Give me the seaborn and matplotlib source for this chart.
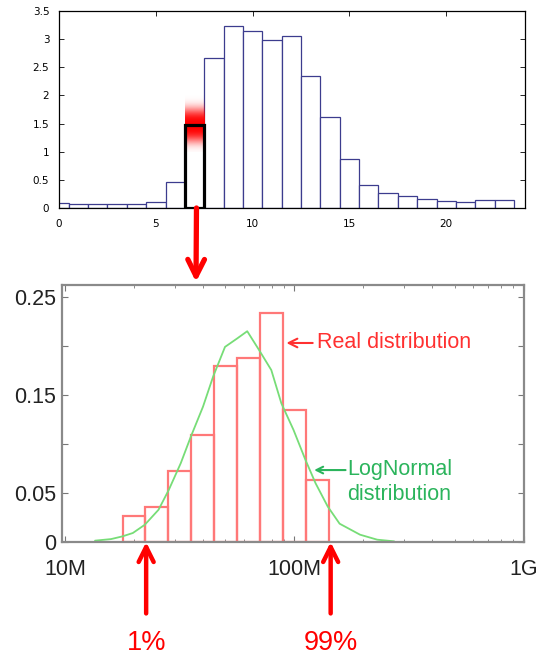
import matplotlib
matplotlib.use("Agg")

import matplotlib.pyplot as plt
import numpy as np
import pandas as pd
import seaborn as sns

# ── Data ──
# top histogram: bins centred on integers 0..23, width 1
top_centers = list(range(24))
top_heights = [0.09, 0.07, 0.07, 0.07, 0.075, 0.10, 0.455, 1.47, 2.66, 3.23, 3.14, 2.98,
               3.05, 2.34, 1.62, 0.865, 0.41, 0.26, 0.21, 0.165, 0.13, 0.11, 0.15, 0.15]
highlight_bin = 7

# bottom histogram: log10 of bin edges (bytes) and heights
real_log_edges = [7.25, 7.35, 7.45, 7.55, 7.65, 7.75, 7.85, 7.95, 8.05, 8.15]
real_heights = [0.027, 0.036, 0.0726, 0.109, 0.180, 0.188, 0.234, 0.135, 0.0628]

# lognormal fit curve: log10(x), density
fit_log_x = [7.13, 7.20, 7.25, 7.295, 7.347, 7.407, 7.452, 7.504, 7.548, 7.601, 7.645, 7.697,
             7.75, 7.794, 7.846, 7.899, 7.943, 7.996, 8.048, 8.092, 8.145, 8.197, 8.286, 8.361, 8.435]
fit_y = [0.0014, 0.003, 0.0058, 0.0092, 0.0176, 0.0329, 0.0533, 0.0804, 0.1075, 0.138, 0.1686, 0.199,
         0.2076, 0.215, 0.1957, 0.1754, 0.1414, 0.1143, 0.0838, 0.060, 0.0363, 0.0187, 0.0075, 0.0024, 0.0007]

pct_log_x = [7.353, 8.158]
pct_labels = ["1%", "99%"]

# ── Setup ──
sns.set_theme(style="ticks")
plt.rcParams["font.family"] = ["Liberation Sans", "DejaVu Sans"]

RED = "#ff0000"
NAVY = "#3c3c8e"

fig = plt.figure(figsize=(5.44, 6.57), dpi=100)
fig.patch.set_facecolor("white")

# ── 1. Top histogram ──
ax1 = fig.add_axes([0.1085, 0.6834, 0.8566, 0.2998])
top_df = pd.DataFrame({"x": top_centers, "w": top_heights})
top_edges = [c - 0.5 for c in top_centers] + [top_centers[-1] + 0.5]
sns.histplot(data=top_df, x="x", weights="w", bins=top_edges, ax=ax1,
             facecolor="white", edgecolor=NAVY, linewidth=0.9)

# red glow around the highlighted bin top
yy = np.linspace(1.0, 2.0, 200)
alpha = np.exp(-(np.abs(yy - 1.47) / 0.3) ** 3)
glow = np.zeros((len(yy), 1, 4))
glow[:, 0, 0] = 1.0
glow[:, 0, 3] = alpha
ax1.imshow(glow[::-1], extent=[highlight_bin - 0.5, highlight_bin + 0.5, 1.0, 2.0],
           aspect="auto", zorder=1.5, interpolation="bilinear")
ax1.bar(highlight_bin, top_heights[highlight_bin], width=1.0, facecolor="none",
        edgecolor="black", linewidth=2.3, zorder=2)

ax1.set_xlim(0, 24.07)
ax1.set_ylim(0, 3.5)
ax1.set_xticks([0, 5, 10, 15, 20])
ax1.set_yticks(np.arange(0, 3.51, 0.5))
ax1.set_yticklabels(["0", "0.5", "1", "1.5", "2", "2.5", "3", "3.5"])
ax1.set_xlabel("")
ax1.set_ylabel("")
ax1.tick_params(direction="in", top=True, right=True, length=3.5, width=0.6,
                labelsize=7.5, colors="black", labelfontfamily="DejaVu Sans")
ax1.tick_params(axis="x", pad=8)
ax1.tick_params(axis="y", pad=7)
for s in ax1.spines.values():
    s.set_color("black")
    s.set_linewidth(0.9)

# ── 2. Bottom histogram (log x) ──
ax2 = fig.add_axes([0.1136, 0.175, 0.849, 0.391])
edges_lin = [10 ** e for e in real_log_edges]
real_df = pd.DataFrame({
    "x": [10 ** ((a + b) / 2) for a, b in zip(real_log_edges[:-1], real_log_edges[1:])],
    "w": real_heights,
})
sns.histplot(data=real_df, x="x", weights="w", bins=edges_lin, ax=ax2,
             facecolor="none", edgecolor="#ff7878", linewidth=1.6)
fit_df = pd.DataFrame({"x": [10 ** v for v in fit_log_x], "y": fit_y})
sns.lineplot(data=fit_df, x="x", y="y", ax=ax2, color="#77dd77",
             linewidth=1.3, estimator=None, sort=False)

ax2.set_xscale("log")
ax2.set_xlim(10 ** 6.985, 10 ** 8.985)
ax2.set_ylim(0, 0.262)
ax2.set_xticks([1e7, 1e8, 1e9])
ax2.set_xticklabels(["10M", "100M", "1G"])
ax2.set_yticks([0, 0.05, 0.1, 0.15, 0.2, 0.25])
ax2.set_yticklabels(["0", "0.05", "", "0.15", "", "0.25"])
ax2.set_xlabel("")
ax2.set_ylabel("")
ax2.tick_params(which="both", direction="in", top=True, right=True, color="#777777")
ax2.tick_params(which="major", length=4, width=0.8, labelsize=15.5, labelcolor="#222222")
ax2.tick_params(which="minor", length=2.5, width=0.6)
ax2.tick_params(axis="x", pad=12)
ax2.tick_params(axis="y", pad=4)
for s in ax2.spines.values():
    s.set_color("#8a8a8a")
    s.set_linewidth(1.6)

# annotations inside the lower chart
ax2.annotate("Real distribution", xy=(10 ** 7.965, 0.203), xytext=(10 ** 8.10, 0.203),
             color="#ff3030", fontsize=15.5, ha="left", va="center",
             arrowprops=dict(arrowstyle="->", color="#ff3030", lw=1.5, shrinkA=1, shrinkB=0))
ax2.annotate("", xy=(10 ** 8.086, 0.0734), xytext=(10 ** 8.229, 0.0734),
             arrowprops=dict(arrowstyle="->", color="#2bb45c", lw=1.5, shrinkA=1, shrinkB=0))
ax2.text(10 ** 8.229, 0.0612, "LogNormal\ndistribution", color="#2bb45c",
         fontsize=15.5, ha="left", va="center", linespacing=1.2)

# percentile arrows under the lower chart
for lx, lab in zip(pct_log_x, pct_labels):
    ax2.annotate("", xy=(10 ** lx, 0), xycoords="data",
                 xytext=(10 ** lx, -0.278), textcoords=("data", "axes fraction"),
                 arrowprops=dict(arrowstyle="->,head_length=0.9,head_width=0.45", color=RED,
                                 lw=3.2, shrinkA=0, shrinkB=0),
                 annotation_clip=False)
    ax2.text(10 ** lx, -0.395, lab, transform=ax2.get_xaxis_transform(), color=RED,
             fontsize=19.5, ha="center", va="center")

# arrow linking the highlighted bin to the lower chart
ax1.annotate("", xy=(196 / 544, 1 - 282 / 657), xycoords="figure fraction",
             xytext=(highlight_bin + 0.1, 0), textcoords="data",
             arrowprops=dict(arrowstyle="->,head_length=1.0,head_width=0.5", color=RED,
                             lw=3.8, shrinkA=0, shrinkB=0), annotation_clip=False)

plt.savefig("out.png", dpi=100, facecolor="white")
plt.close()
